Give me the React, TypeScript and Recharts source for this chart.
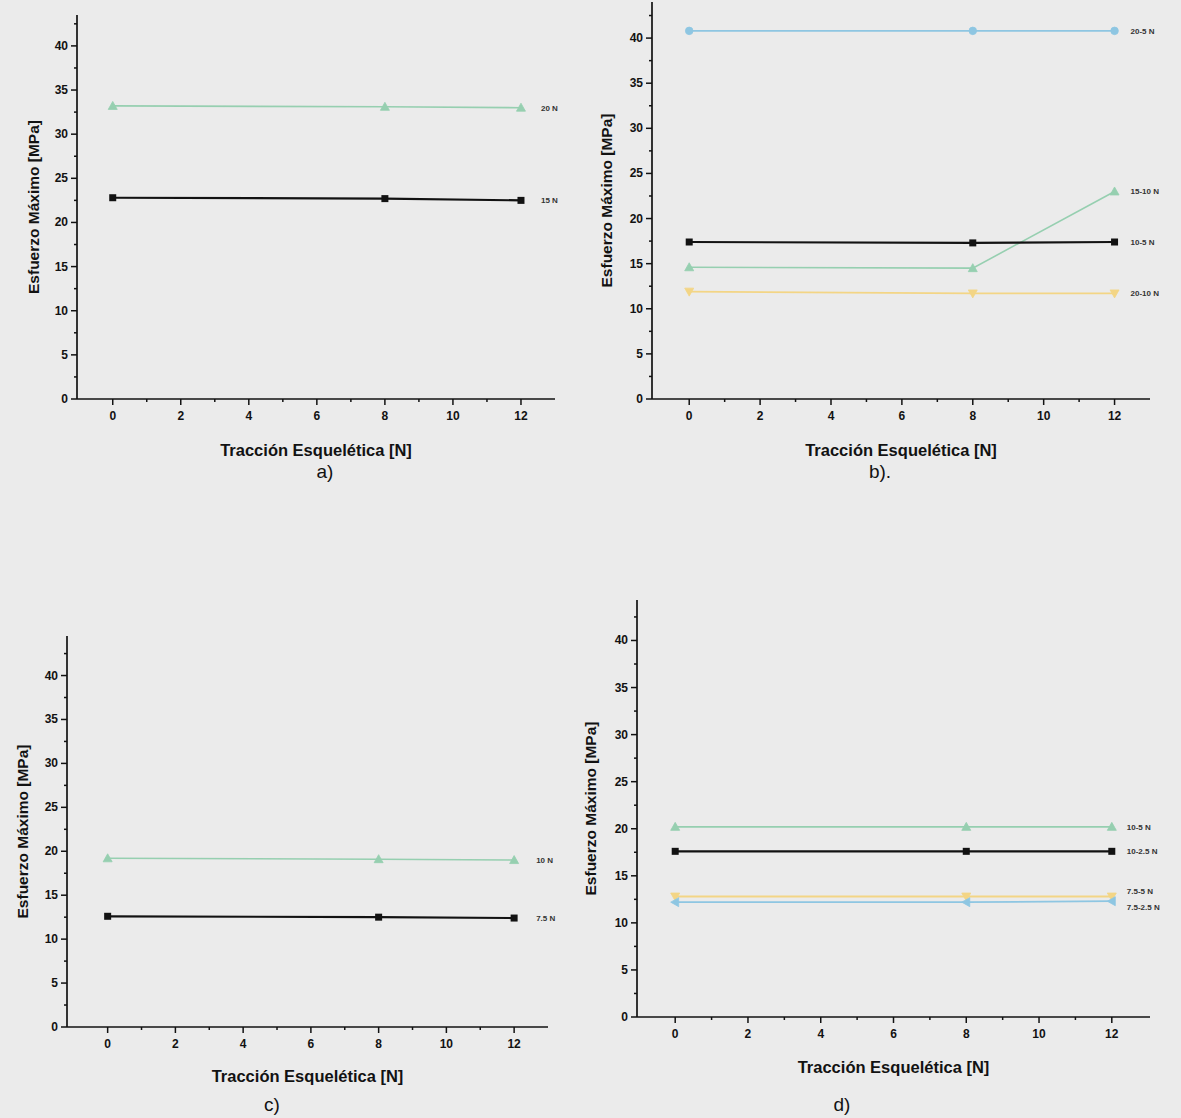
import React from "react";
import { LineChart, Line, XAxis, YAxis } from "recharts";

// ---------- data ----------
const xValues = [0, 8, 12];

const aNames = ["20 N", "15 N"];
const a20N = [33.2, 33.1, 33.0];
const a15N = [22.8, 22.7, 22.5];

const bNames = ["20-5 N", "15-10 N", "10-5 N", "20-10 N"];
const b20_5 = [40.8, 40.8, 40.8];
const b15_10 = [14.6, 14.5, 23.0];
const b10_5 = [17.4, 17.3, 17.4];
const b20_10 = [11.9, 11.7, 11.7];

const cNames = ["10 N", "7.5 N"];
const c10N = [19.2, 19.1, 19.0];
const c75N = [12.6, 12.5, 12.4];

const dNames = ["10-5 N", "10-2.5 N", "7.5-5 N", "7.5-2.5 N"];
const d10_5 = [20.2, 20.2, 20.2];
const d10_25 = [17.6, 17.6, 17.6];
const d75_5 = [12.8, 12.8, 12.8];
const d75_25 = [12.2, 12.2, 12.3];

const xTicks = [0, 1, 2, 3, 4, 5, 6, 7, 8, 9, 10, 11, 12];
const yTickLabels = [0, 5, 10, 15, 20, 25, 30, 35, 40];
const yMinorStep = 2.5;

const xTitle = "Tracción Esquelética [N]";
const yTitle = "Esfuerzo Máximo [MPa]";
const captions = ["a)", "b).", "c)", "d)"];

// ---------- styling ----------
const FONT = "'Liberation Sans', Arial, Helvetica, sans-serif";
const BLACK = "#121212";
const GREEN = "#96cfb0";
const BLUE = "#8ec6e2";
const YELLOW = "#f3d585";

type Series = { key: string; name: string; values: number[]; color: string; width: number; shape: string; labelDy: number };

function buildRows(series: Series[]) {
  return xValues.map((x, i) => {
    const row: any = { x };
    series.forEach((s) => (row[s.key] = s.values[i]));
    return row;
  });
}

function yTicks(max: number) {
  const t: number[] = [];
  for (let v = 0; v <= max + 1e-9; v += yMinorStep) t.push(v);
  return t;
}

const YTick = (props: any) => {
  const { x, y, payload } = props;
  const v = payload.value;
  const major = yTickLabels.includes(v);
  return (
    <g>
      <line x1={x} x2={x - (major ? 6 : 3)} y1={y} y2={y} stroke={BLACK} strokeWidth={1.5} />
      {major && (
        <text x={x - 9} y={y} dy={4} textAnchor="end" fontSize={12} fontWeight="bold" fill={BLACK} fontFamily={FONT}>
          {v}
        </text>
      )}
    </g>
  );
};

const XTick = (props: any) => {
  const { x, y, payload } = props;
  const v = payload.value;
  const major = v % 2 === 0;
  return (
    <g>
      <line x1={x} x2={x} y1={y} y2={y + (major ? 6 : 3)} stroke={BLACK} strokeWidth={1.5} />
      {major && (
        <text x={x} y={y + 21} textAnchor="middle" fontSize={12} fontWeight="bold" fill={BLACK} fontFamily={FONT}>
          {v}
        </text>
      )}
    </g>
  );
};

function Marker({ cx, cy, shape, color }: any) {
  if (cx == null || cy == null) return null;
  const dark = shape === "square" ? BLACK : color;
  switch (shape) {
    case "square":
      return <rect x={cx - 3.5} y={cy - 3.5} width={7} height={7} fill={BLACK} />;
    case "triangle":
      return <polygon points={`${cx},${cy - 4.5} ${cx - 4.5},${cy + 3.5} ${cx + 4.5},${cy + 3.5}`} fill={color} stroke={dark} strokeWidth={0.8} />;
    case "circle":
      return <circle cx={cx} cy={cy} r={3.8} fill={color} stroke={dark} strokeWidth={0.8} />;
    case "down":
      return <polygon points={`${cx - 4.5},${cy - 3.5} ${cx + 4.5},${cy - 3.5} ${cx},${cy + 4.5}`} fill={color} stroke={dark} strokeWidth={0.8} />;
    case "left":
      return <polygon points={`${cx - 4.5},${cy} ${cx + 3.5},${cy - 4.5} ${cx + 3.5},${cy + 4.5}`} fill={color} stroke={dark} strokeWidth={0.8} />;
    default:
      return <circle cx={cx} cy={cy} r={3} fill={color} />;
  }
}

type Panel = {
  left: number; top: number; width: number; height: number;
  margin: { top: number; right: number; left: number; bottom: number };
  yWidth: number; xHeight: number; yMax: number; xDomain: [number, number];
  yTitleOffset: number; xTitleOffset: number; labelOffset: number;
  series: Series[]; caption: string; captionX: number; captionY: number;
};

const panels: Panel[] = [
  {
    left: 0, top: 0, width: 580, height: 460, margin: { top: 15, right: 25, left: 0, bottom: 0 },
    yWidth: 77, xHeight: 61, yMax: 43.5, xDomain: [-1.05, 13], yTitleOffset: 33, xTitleOffset: 57, labelOffset: 20,
    series: [
      { key: "s1", name: aNames[0], values: a20N, color: GREEN, width: 1.6, shape: "triangle", labelDy: 0 },
      { key: "s2", name: aNames[1], values: a15N, color: BLACK, width: 2.2, shape: "square", labelDy: 0 },
    ],
    caption: captions[0], captionX: 325, captionY: 472,
  },
  {
    left: 580, top: 0, width: 601, height: 460, margin: { top: 2, right: 31, left: 0, bottom: 0 },
    yWidth: 72, xHeight: 61, yMax: 44, xDomain: [-1.05, 13], yTitleOffset: 26, xTitleOffset: 57, labelOffset: 16,
    series: [
      { key: "s1", name: bNames[0], values: b20_5, color: BLUE, width: 1.8, shape: "circle", labelDy: 0 },
      { key: "s2", name: bNames[1], values: b15_10, color: GREEN, width: 1.6, shape: "triangle", labelDy: 0 },
      { key: "s3", name: bNames[2], values: b10_5, color: BLACK, width: 2.2, shape: "square", labelDy: 0 },
      { key: "s4", name: bNames[3], values: b20_10, color: YELLOW, width: 1.8, shape: "down", labelDy: 0 },
    ],
    caption: captions[1], captionX: 880, captionY: 472,
  },
  {
    left: 0, top: 560, width: 580, height: 530, margin: { top: 76, right: 32, left: 0, bottom: 0 },
    yWidth: 67, xHeight: 63, yMax: 44.5, xDomain: [-1.2, 13], yTitleOffset: 22, xTitleOffset: 55, labelOffset: 22,
    series: [
      { key: "s1", name: cNames[0], values: c10N, color: GREEN, width: 1.6, shape: "triangle", labelDy: 0 },
      { key: "s2", name: cNames[1], values: c75N, color: BLACK, width: 2.2, shape: "square", labelDy: 0 },
    ],
    caption: captions[2], captionX: 272, captionY: 1105,
  },
  {
    left: 580, top: 560, width: 601, height: 530, margin: { top: 40, right: 31, left: 0, bottom: 0 },
    yWidth: 57, xHeight: 73, yMax: 44.3, xDomain: [-1.05, 13.05], yTitleOffset: 10, xTitleOffset: 56, labelOffset: 15,
    series: [
      { key: "s1", name: dNames[0], values: d10_5, color: GREEN, width: 1.6, shape: "triangle", labelDy: 0 },
      { key: "s2", name: dNames[1], values: d10_25, color: BLACK, width: 2.2, shape: "square", labelDy: 0 },
      { key: "s3", name: dNames[2], values: d75_5, color: YELLOW, width: 1.8, shape: "down", labelDy: -6 },
      { key: "s4", name: dNames[3], values: d75_25, color: BLUE, width: 1.8, shape: "left", labelDy: 6 },
    ],
    caption: captions[3], captionX: 842, captionY: 1105,
  },
];

function PanelChart({ p }: { p: Panel }) {
  const rows = buildRows(p.series);
  return (
    <div style={{ position: "absolute", left: p.left, top: p.top }}>
      <LineChart width={p.width} height={p.height} data={rows} margin={p.margin} style={{ fontFamily: FONT }}>
        <XAxis
          dataKey="x"
          type="number"
          domain={p.xDomain}
          ticks={xTicks}
          allowDataOverflow
          height={p.xHeight}
          tickSize={0}
          tickMargin={0}
          tickLine={false}
          axisLine={{ stroke: BLACK, strokeWidth: 1.7 }}
          tick={<XTick />}
          interval={0}
          label={(lp: any) => {
            const vb = lp.viewBox || {};
            return (
              <text x={vb.x + vb.width / 2} y={vb.y + p.xTitleOffset} textAnchor="middle" fontSize={16.5} fontWeight="bold" fill={BLACK} fontFamily={FONT}>
                {xTitle}
              </text>
            );
          }}
        />
        <YAxis
          type="number"
          domain={[0, p.yMax]}
          ticks={yTicks(p.yMax)}
          allowDataOverflow
          width={p.yWidth}
          tickSize={0}
          tickMargin={0}
          tickLine={false}
          axisLine={{ stroke: BLACK, strokeWidth: 1.7 }}
          tick={<YTick />}
          interval={0}
          label={(lp: any) => {
            const vb = lp.viewBox || {};
            const cx = vb.x + p.yTitleOffset;
            const cy = vb.y + vb.height / 2;
            return (
              <text x={cx} y={cy} transform={`rotate(-90, ${cx}, ${cy})`} textAnchor="middle" dominantBaseline="central" fontSize={15.5} fontWeight="bold" fill={BLACK} fontFamily={FONT}>
                {yTitle}
              </text>
            );
          }}
        />
        {p.series.map((s) => (
          <Line
            key={s.key}
            dataKey={s.key}
            type="linear"
            stroke={s.color}
            strokeWidth={s.width}
            isAnimationActive={false}
            dot={(dp: any) => <Marker key={`${s.key}-${dp.index}`} cx={dp.cx} cy={dp.cy} shape={s.shape} color={s.color} />}
            activeDot={false}
            label={(lp: any) =>
              lp.index === xValues.length - 1 ? (
                <text key={`${s.key}-lab`} x={lp.x + p.labelOffset} y={lp.y + s.labelDy} dy={3} fontSize={8} fontWeight="bold" fill="#333" fontFamily={FONT}>
                  {s.name}
                </text>
              ) : (
                <g key={`${s.key}-lab-${lp.index}`} />
              )
            }
          />
        ))}
      </LineChart>
    </div>
  );
}

export default function App() {
  return (
    <div style={{ position: "absolute", left: 0, top: 0, width: 1181, height: 1118, background: "#ebebeb", overflow: "hidden", fontFamily: FONT }}>
      {panels.map((p, i) => (
        <PanelChart key={i} p={p} />
      ))}
      {panels.map((p, i) => (
        <div
          key={`cap-${i}`}
          style={{ position: "absolute", left: p.captionX - 40, width: 80, top: p.captionY - 12, textAlign: "center", fontSize: 19, color: BLACK, lineHeight: "24px" }}
        >
          {p.caption}
        </div>
      ))}
    </div>
  );
}
